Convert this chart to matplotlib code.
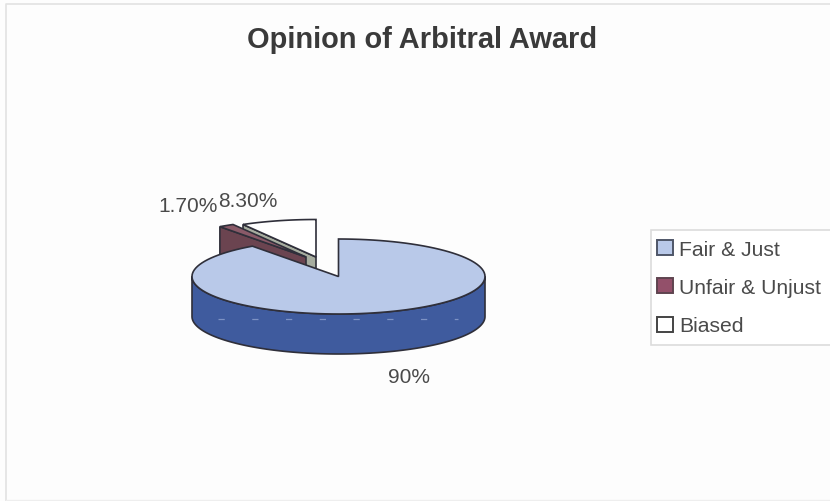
import numpy as np
import matplotlib
matplotlib.use("Agg")
import matplotlib.pyplot as plt
from matplotlib.patches import Polygon, Patch, Rectangle

title = "Opinion of Arbitral Award"
categories = ["Fair & Just", "Unfair & Unjust", "Biased"]
shares = [90.0, 1.7, 8.3]
value_labels = ["90%", "1.70%", "8.30%"]

plt.rcParams["font.family"] = ["Liberation Sans", "DejaVu Sans"]
TXT = "#4a4a4a"
EDGE = "#2f2f3a"
RX, RY, DEPTH = 146.5, 37.5, 40

fig = plt.figure(figsize=(8.3, 5.02), dpi=100, facecolor="#fdfdfd")
ax = fig.add_axes([0, 0, 1, 1])
ax.set_xlim(0, 830)
ax.set_ylim(502, 0)
ax.axis("off")


def rim(c, a0, a1, n=120):
    """Rim points; angles are clockwise degrees from 12 o'clock."""
    t = np.radians(np.linspace(a0, a1, n))
    return np.column_stack([c[0] + RX * np.sin(t), c[1] - RY * np.cos(t)])


# chart-area frame
ax.plot([6, 6, 830], [502, 4.5, 4.5], color="#e2e2e2", lw=1.2, zorder=0)
ax.plot([6, 830], [501, 501], color="#eeeeee", lw=1, zorder=0)

edges = np.cumsum([0] + shares) * 3.6
c_main = (338.5, 277.5)
c_red = (306.0, 258.0)
c_white = (316.0, 258.0)


def cut_wall(c, angle, color, z):
    p = rim(c, angle, angle, 1)[0]
    ax.add_patch(Polygon([p, c, (c[0], c[1] + DEPTH), (p[0], p[1] + DEPTH)],
                         closed=True, fc=color, ec=EDGE, lw=1.2, zorder=z))


def top(c, a0, a1, color, z):
    pts = np.vstack([[c], rim(c, a0, a1)])
    ax.add_patch(Polygon(pts, closed=True, fc=color, ec=EDGE, lw=1.2, zorder=z))


# Biased (exploded), behind
cut_wall(c_white, edges[2], "#a7ad9f", 2)
top(c_white, edges[2], edges[3], "#ffffff", 3)
# Unfair & Unjust (exploded), in front of it
cut_wall(c_red, edges[1], "#6b4450", 4)
top(c_red, edges[1], edges[2], "#8a5a68", 5)

# Fair & Just: side wall then top
front = rim(c_main, 90, 270)
side = np.vstack([front, (front + [0, DEPTH])[::-1]])
ax.add_patch(Polygon(side, closed=True, fc="#3f5b9e", ec=EDGE, lw=1.2, zorder=6))
ax.plot([218, 458], [320, 320], color="#7d92c4", lw=0.9, ls=(0, (5, 22)), zorder=7)
top(c_main, edges[0], edges[1], "#b9c9e9", 8)

# data labels
ax.text(188, 207, value_labels[1], fontsize=15, color=TXT, ha="center", va="center", zorder=9)
ax.text(248, 202, value_labels[2], fontsize=15, color=TXT, ha="center", va="center", zorder=9)
ax.text(409, 378, value_labels[0], fontsize=15, color=TXT, ha="center", va="center", zorder=9)

# title
ax.text(422, 40, title, fontsize=20.9, fontweight="bold", color="#3a3a3a", ha="center", va="center")

# legend frame and entries
ax.add_patch(Rectangle((651, 231), 185, 115, fc="#ffffff", ec="#dcdcdc", lw=1.2, zorder=1))
handles = [Patch(fc=f, ec=e, lw=1.4) for f, e in
           [("#b9c9e9", "#4f5668"), ("#93506a", "#5f4450"), ("#ffffff", "#444444")]]
leg = ax.legend(handles, categories, loc="upper left",
                bbox_to_anchor=(651 / 830, 1 - 234.3 / 502), bbox_transform=ax.transAxes,
                fontsize=15.2, labelcolor=TXT, frameon=False, borderaxespad=0,
                handlelength=0.72, handleheight=0.72, handletextpad=0.3,
                labelspacing=0.92, borderpad=0.3)

fig.savefig("out.png", dpi=100, facecolor=fig.get_facecolor())
